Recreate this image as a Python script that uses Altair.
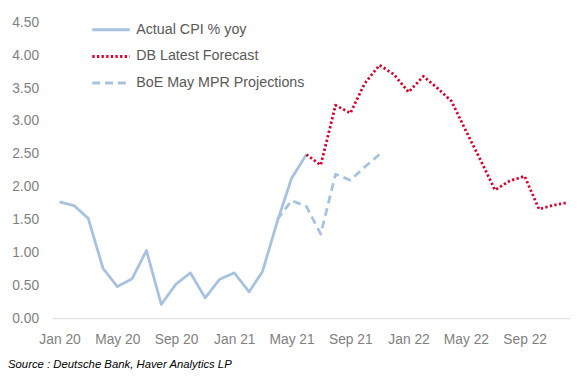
import altair as alt
import pandas as pd

# ---- data ----
series_names = ["Actual CPI % yoy", "DB Latest Forecast", "BoE May MPR Projections"]

actual_months = ["2020-01-01", "2020-02-01", "2020-03-01", "2020-04-01", "2020-05-01", "2020-06-01",
                 "2020-07-01", "2020-08-01", "2020-09-01", "2020-10-01", "2020-11-01", "2020-12-01",
                 "2021-01-01", "2021-02-01", "2021-03-01", "2021-04-01", "2021-05-01", "2021-06-01"]
actual_values = [1.77, 1.71, 1.52, 0.76, 0.48, 0.60, 1.03, 0.21, 0.52, 0.69, 0.31, 0.59,
                 0.69, 0.40, 0.71, 1.47, 2.13, 2.49]

db_months = ["2021-06-01", "2021-07-01", "2021-08-01", "2021-09-01", "2021-10-01", "2021-11-01",
             "2021-12-01", "2022-01-01", "2022-02-01", "2022-03-01", "2022-04-01", "2022-05-01",
             "2022-06-01", "2022-07-01", "2022-08-01", "2022-09-01", "2022-10-01", "2022-11-01",
             "2022-12-01"]
db_values = [2.49, 2.33, 3.24, 3.12, 3.57, 3.85, 3.71, 3.44, 3.68, 3.51, 3.30, 2.85,
             2.40, 1.95, 2.09, 2.16, 1.66, 1.72, 1.76]

boe_months = ["2021-04-01", "2021-05-01", "2021-06-01", "2021-07-01", "2021-08-01", "2021-09-01",
              "2021-10-01", "2021-11-01"]
boe_values = [1.50, 1.79, 1.70, 1.28, 2.19, 2.10, 2.30, 2.49]

y_ticks = [0, 0.5, 1.0, 1.5, 2.0, 2.5, 3.0, 3.5, 4.0, 4.5]
x_tick_months = [(2020, 1), (2020, 5), (2020, 9), (2021, 1), (2021, 5), (2021, 9),
                 (2022, 1), (2022, 5), (2022, 9)]
source_text = "Source : Deutsche Bank, Haver Analytics LP"

# ---- build table ----
frames = []
for name, months, vals in zip(series_names,
                              [actual_months, db_months, boe_months],
                              [actual_values, db_values, boe_values]):
    frames.append(pd.DataFrame({"date": months, "value": vals, "series": name}))
df = pd.concat(frames, ignore_index=True)

blue = "#a7c2de"
red = "#d8002a"
font = "Liberation Sans"

x_enc = alt.X(
    "date:T",
    scale=alt.Scale(type="utc",
                    domain=[alt.DateTime(year=2019, month=12, date=17, utc=True),
                            alt.DateTime(year=2022, month=12, date=5, utc=True)]),
    axis=alt.Axis(
        values=[alt.DateTime(year=y, month=m, date=1, utc=True) for y, m in x_tick_months],
        labelExpr="utcFormat(datum.value, '%b %y')",
        grid=False, ticks=False, domain=True, domainColor="#d9d9d9", domainWidth=1,
        labelColor="#7f7f7f", labelFontSize=14, labelFont=font, labelPadding=15,
        labelFlush=False, labelOverlap=False),
    title=None,
)
y_enc = alt.Y(
    "value:Q",
    scale=alt.Scale(domain=[0, 4.5], nice=False),
    axis=alt.Axis(values=y_ticks, format=".2f", grid=False, ticks=False, domain=False,
                  labelColor="#7f7f7f", labelFontSize=14, labelFont=font, labelPadding=14),
    title=None,
)

legend_opts = dict(orient="none", legendX=39, legendY=-13, title=None,
                   symbolType="stroke", symbolSize=1444, symbolStrokeWidth=3,
                   rowPadding=0, labelFontSize=14.5, labelColor="#595959", labelFont=font,
                   labelOffset=5, labelLimit=400)

lines = alt.Chart(df).mark_line(strokeCap="butt", strokeJoin="round", strokeWidth=2.8).encode(
    x=x_enc,
    y=y_enc,
    color=alt.Color("series:N",
                    scale=alt.Scale(domain=series_names, range=[blue, red, blue]),
                    legend=alt.Legend(**legend_opts)),
    strokeDash=alt.StrokeDash("series:N",
                              scale=alt.Scale(domain=series_names,
                                              range=[[1, 0], [2.3, 2.4], [8, 5]]),
                              legend=alt.Legend(**legend_opts)),
    order=alt.Order("date:T"),
)

source = alt.Chart(pd.DataFrame({"t": [source_text]})).mark_text(
    align="left", baseline="middle", fontStyle="italic", fontSize=11.5, font=font,
    color="#000000"
).encode(text="t:N", x=alt.value(-45), y=alt.value(348))

chart = alt.layer(lines, source).properties(
    width=525, height=300,
    autosize=alt.AutoSizeParams(type="none"),
    padding={"left": 45, "top": 12, "right": 0, "bottom": 55},
).configure_view(stroke=None)

chart.save("out.html", embed_options={"renderer": "svg", "actions": False})
